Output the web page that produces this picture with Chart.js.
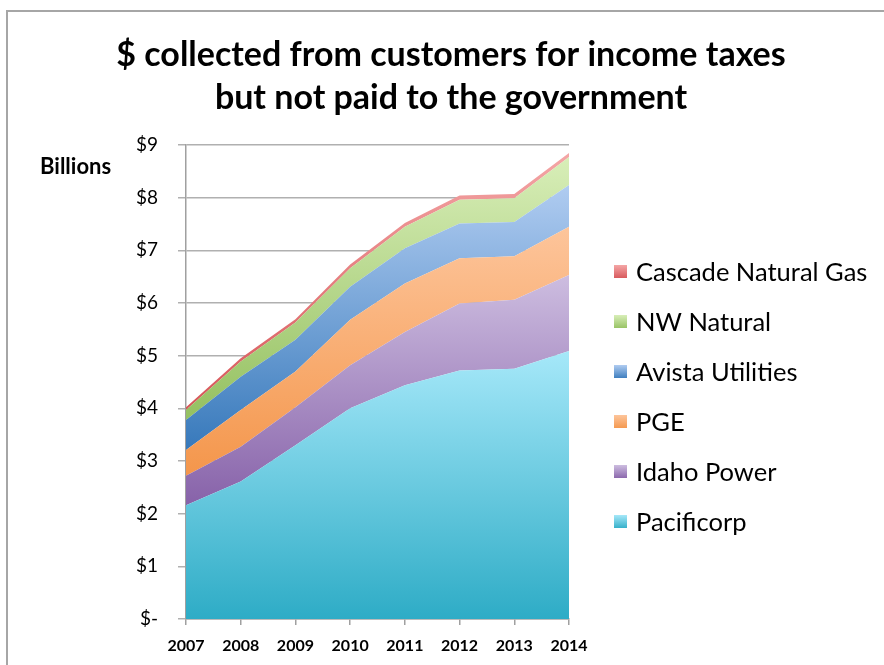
<!DOCTYPE html>
<html>
<head>
<meta charset="utf-8">
<script src="https://cdn.jsdelivr.net/npm/chart.js@4"></script>
<style>
  body { margin: 0; background: #fff; }
  #wrap { position: relative; width: 884px; height: 665px; overflow: hidden; }
  #frame { position: absolute; left: 6px; top: 10px; width: 900px; height: 700px;
           border-top: 2px solid #a6a6a6; border-left: 2px solid #a6a6a6; }
  canvas { position: absolute; left: 0; top: 0; }
</style>
</head>
<body>
<div id="wrap">
  <div id="frame"></div>
  <canvas id="chart" width="884" height="665"></canvas>
</div>
<script>
// Years on the x axis
const years = ['2007', '2008', '2009', '2010', '2011', '2012', '2013', '2014'];

// $ billions per utility (stacked, bottom to top)
const pacificorp = [2.16, 2.61, 3.30, 4.00, 4.44, 4.72, 4.75, 5.09];
const idahoPower = [0.56, 0.66, 0.72, 0.82, 1.01, 1.27, 1.31, 1.44];
const pge        = [0.49, 0.70, 0.68, 0.86, 0.92, 0.86, 0.83, 0.92];
const avista     = [0.57, 0.63, 0.60, 0.63, 0.67, 0.66, 0.65, 0.79];
const nwNatural  = [0.19, 0.29, 0.33, 0.35, 0.41, 0.45, 0.45, 0.53];
const cascade    = [0.05, 0.06, 0.06, 0.07, 0.07, 0.08, 0.08, 0.08];

const seriesNames = ['Pacificorp', 'Idaho Power', 'PGE', 'Avista Utilities', 'NW Natural', 'Cascade Natural Gas'];
const seriesData = [pacificorp, idahoPower, pge, avista, nwNatural, cascade];
const lightColors = ['#a6e8f9', '#cdbde0', '#fdc59b', '#b0ccf1', '#d8eeb8', '#f4a6a6'];
const darkColors  = ['#2eacc6', '#8762a9', '#f4964b', '#3779bb', '#94c060', '#d65558'];

const titleLines = ['$ collected from customers for income taxes', 'but not paid to the government'];

const FONT = 'Lato, "Open Sans", sans-serif';

// gradient spanning the vertical extent of each band, like Excel shape fills
function bandGradient(i) {
    return function (ctx) {
        const chart = ctx.chart;
        const area = chart.chartArea;
        if (!area) return lightColors[i];
        const y = chart.scales.y;
        let top = 0, bottom = Infinity;
        years.forEach((_, k) => {
            let below = 0;
            for (let j = 0; j < i; j++) below += seriesData[j][k];
            top = Math.max(top, below + seriesData[i][k]);
            bottom = Math.min(bottom, below);
        });
        const g = chart.ctx.createLinearGradient(0, y.getPixelForValue(top), 0, y.getPixelForValue(bottom));
        g.addColorStop(0, lightColors[i]);
        g.addColorStop(1, darkColors[i]);
        return g;
    };
}

const datasets = seriesData.map((data, i) => ({
    label: seriesNames[i],
    data: data,
    fill: i === 0 ? 'origin' : '-1',
    backgroundColor: bandGradient(i),
    borderWidth: 0,
    pointRadius: 0,
    tension: 0
}));

// title, axis caption and the legend on the right (top entry = top band)
const decorations = {
    id: 'decorations',
    afterDraw(chart) {
        const c = chart.ctx;
        c.save();
        c.fillStyle = '#000';
        c.textBaseline = 'middle';

        c.textAlign = 'center';
        c.font = 'bold 34px ' + FONT;
        titleLines.forEach((t, k) => c.fillText(t, 451, 55 + k * 43));

        c.textAlign = 'left';
        c.font = 'bold 22px ' + FONT;
        c.fillText('Billions', 40, 167);

        c.font = '25.5px ' + FONT;
        const n = seriesNames.length;
        for (let r = 0; r < n; r++) {
            const i = n - 1 - r;
            const cy = 272 + r * 50;
            const g = c.createLinearGradient(0, cy - 7, 0, cy + 7);
            g.addColorStop(0, lightColors[i]);
            g.addColorStop(1, darkColors[i]);
            c.fillStyle = g;
            c.fillRect(614, cy - 7, 13, 13);
            c.fillStyle = '#000';
            c.fillText(seriesNames[i], 636, cy + 1);
        }
        c.restore();
    }
};

new Chart(document.getElementById('chart'), {
    type: 'line',
    data: { labels: years, datasets: datasets },
    plugins: [decorations],
    options: {
        responsive: false,
        animation: false,
        layout: { padding: { left: 0, right: 315, top: 145, bottom: 0 } },
        plugins: {
            legend: { display: false },
            tooltip: { enabled: false },
            title: { display: false }
        },
        scales: {
            x: {
                grid: { drawOnChartArea: false, drawTicks: true, tickLength: 6, color: '#a0a0a0', lineWidth: 1.5 },
                border: { color: '#a0a0a0', width: 1.5 },
                ticks: { color: '#000', font: { family: FONT, size: 16, weight: 'bold' }, padding: 11, maxRotation: 0 },
                afterFit(scale) { scale.height = 46; }
            },
            y: {
                stacked: true,
                min: 0,
                max: 9,
                grid: { color: '#b0b0b0', lineWidth: 1.5, tickLength: 8 },
                border: { color: '#a0a0a0', width: 1.5 },
                ticks: {
                    stepSize: 1,
                    color: '#000',
                    padding: 20,
                    font: { family: FONT, size: 19 },
                    callback: v => v === 0 ? '$-' : '$' + v
                },
                afterFit(scale) { scale.width = 186; }
            }
        }
    }
});
</script>
</body>
</html>
